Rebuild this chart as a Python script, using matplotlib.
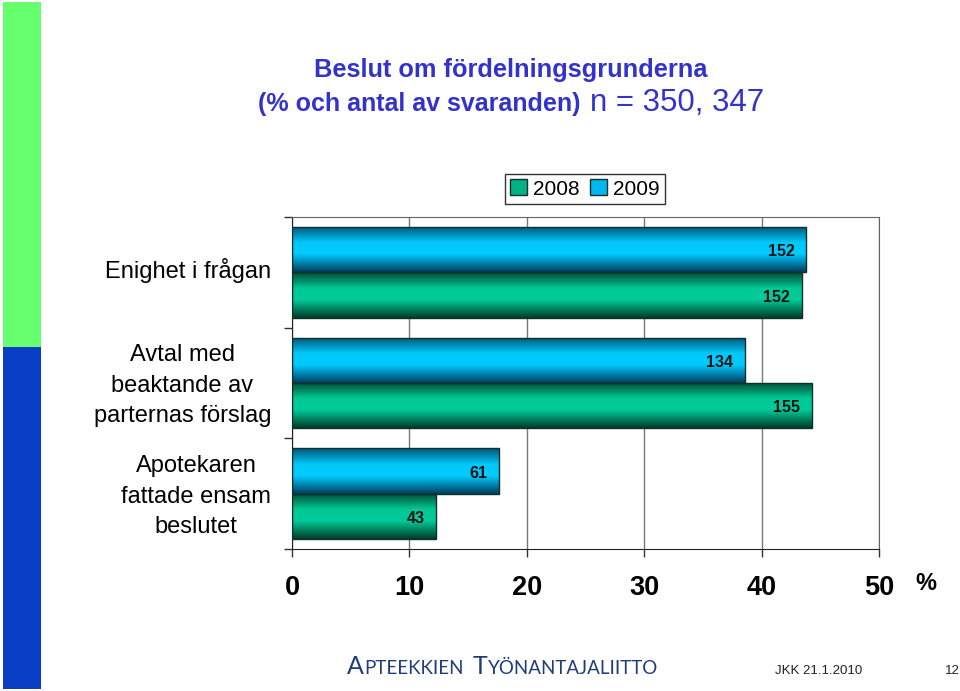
import matplotlib
matplotlib.use("Agg")
import matplotlib.pyplot as plt
import numpy as np
from matplotlib.colors import LinearSegmentedColormap
from matplotlib.patches import Patch, Rectangle
from matplotlib.offsetbox import TextArea, HPacker, AnchoredOffsetbox

plt.rcParams["font.family"] = ["Liberation Sans", "DejaVu Sans"]

# data (percent of respondents, counts shown on bars)
categories = [
    "Enighet i frågan",
    "Avtal med\nbeaktande av\nparternas förslag",
    "Apotekaren\nfattade ensam\nbeslutet",
]
years = ["2008", "2009"]
pct_2008 = [43.4, 44.3, 12.3]
pct_2009 = [43.8, 38.6, 17.6]
count_2008 = [152, 155, 43]
count_2009 = [152, 134, 61]
x_ticks = [0, 10, 20, 30, 40, 50]

title_color = "#3333cc"
green_cmap = LinearSegmentedColormap.from_list(
    "g", [(0, "#004d33"), (0.35, "#00c895"), (0.6, "#00cc99"), (1, "#003d2a")])
blue_cmap = LinearSegmentedColormap.from_list(
    "b", [(0, "#005577"), (0.35, "#00c8f8"), (0.6, "#00ccff"), (1, "#003f5f")])

fig = plt.figure(figsize=(9.6, 6.91), dpi=100)
fig.patch.set_facecolor("white")

# left decorative stripe
fig.add_artist(Rectangle((3 / 960, 1 - 347 / 691), 38 / 960, 345 / 691,
                         transform=fig.transFigure, color="#66ff6e", lw=0))
fig.add_artist(Rectangle((3 / 960, 1 - 689 / 691), 38 / 960, 342 / 691,
                         transform=fig.transFigure, color="#0a3ec6", lw=0))

ax = fig.add_axes([292 / 960, 1 - 549 / 691, 587 / 960, 332 / 691])

y = np.arange(len(categories))
h = 0.41
bars09 = ax.barh(y - h / 2, pct_2009, height=h, facecolor="none",
                 edgecolor="#10302c", lw=1, zorder=3)
bars08 = ax.barh(y + h / 2, pct_2008, height=h, facecolor="none",
                 edgecolor="#10302c", lw=1, zorder=3)

grad = np.linspace(0, 1, 64).reshape(-1, 1)
for bars, cmap in [(bars09, blue_cmap), (bars08, green_cmap)]:
    for p in bars:
        x0, y0 = p.get_x(), p.get_y()
        x1, y1 = x0 + p.get_width(), y0 + p.get_height()
        im = ax.imshow(grad, cmap=cmap, aspect="auto", origin="upper",
                       extent=(x0, x1, y1, y0), zorder=2)
        im.set_clip_path(p)

for bars, counts in [(bars09, count_2009), (bars08, count_2008)]:
    for p, c in zip(bars, counts):
        ax.text(p.get_x() + p.get_width() - 1.0, p.get_y() + p.get_height() / 2 + 0.02,
                str(c), ha="right", va="center", fontsize=11.5,
                fontweight="bold", color="#111111", zorder=4)

ax.set_xlim(0, 50)
ax.set_ylim(len(categories) - 0.5, -0.5)
ax.set_xticks(x_ticks)
ax.set_xticklabels([str(t) for t in x_ticks], fontsize=19.5, fontweight="bold",
                   family=["Liberation Sans Narrow", "Liberation Sans"])
ax.tick_params(axis="x", length=6, width=1, pad=13, color="#333333")
ax.set_yticks(np.arange(len(categories) + 1) - 0.5)
ax.set_yticklabels([""] * (len(categories) + 1))
ax.tick_params(axis="y", which="major", length=6, width=1, color="#333333")
# category labels sit a touch above the group centre
ax.set_yticks(y - 0.035, minor=True)
ax.set_yticklabels(categories, minor=True, fontsize=17, multialignment="center",
                   linespacing=1.5)
ax.tick_params(axis="y", which="minor", length=0, pad=15)

ax.grid(axis="x", color="#777777", lw=1, zorder=0)
ax.set_axisbelow(True)
for s in ["top", "right"]:
    ax.spines[s].set_color("#666666")
for s in ["left", "bottom"]:
    ax.spines[s].set_color("#222222")

fig.text(926 / 960, 1 - 583 / 691, "%", fontsize=17, fontweight="bold",
         ha="center", va="center")

# legend
handles = [Patch(facecolor="#00b386", edgecolor="#10302c"),
           Patch(facecolor="#00b8ec", edgecolor="#10302c")]
leg = fig.legend(handles, years, loc="center", ncol=2,
                 bbox_to_anchor=(585 / 960, 1 - 189 / 691), fontsize=15,
                 frameon=True, fancybox=False, edgecolor="black",
                 handlelength=0.8, handleheight=0.8, handletextpad=0.3,
                 columnspacing=0.5, borderpad=0.25, borderaxespad=0)
leg.get_frame().set_linewidth(1)

# title
fig.text(511 / 960, 1 - 70 / 691, "Beslut om fördelningsgrunderna",
         ha="center", va="center", fontsize=18.3, fontweight="bold", color=title_color)
line2 = HPacker(children=[
    TextArea("(% och antal av svaranden)",
             textprops=dict(fontsize=18, fontweight="bold", color=title_color)),
    TextArea("n = 350, 347", textprops=dict(fontsize=22.5, color=title_color)),
], sep=7, align="baseline", pad=0)
fig.add_artist(AnchoredOffsetbox(loc="center", child=line2, frameon=False, pad=0,
                                 borderpad=0,
                                 bbox_to_anchor=(511 / 960, 1 - 103 / 691),
                                 bbox_transform=fig.transFigure))

# footer
foot_color = "#1f3c7c"
big = dict(fontsize=18, color=foot_color, family="Lato")
small = dict(fontsize=13.5, color=foot_color, family="Lato")
word1 = HPacker(children=[TextArea("A", textprops=big),
                          TextArea("PTEEKKIEN", textprops=small)],
                sep=0, align="baseline", pad=0)
word2 = HPacker(children=[TextArea("T", textprops=big),
                          TextArea("YÖNANTAJALIITTO", textprops=small)],
                sep=0, align="baseline", pad=0)
footer = HPacker(children=[word1, word2], sep=7, align="baseline", pad=0)
fig.add_artist(AnchoredOffsetbox(loc="center left", child=footer, frameon=False,
                                 pad=0, borderpad=0,
                                 bbox_to_anchor=(347 / 960, 1 - 667 / 691),
                                 bbox_transform=fig.transFigure))
fig.text(819 / 960, 1 - 671 / 691, "JKK 21.1.2010", ha="center", va="center",
         fontsize=9.5, color="#222222")
fig.text(952 / 960, 1 - 671 / 691, "12", ha="center", va="center",
         fontsize=9.5, color="#222222")

fig.savefig("out.png", dpi=100)
